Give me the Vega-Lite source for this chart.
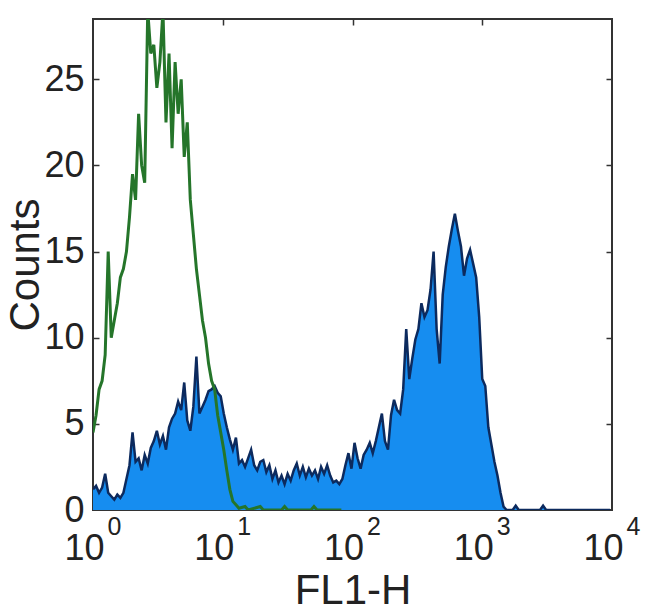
{
  "$schema": "https://vega.github.io/schema/vega-lite/v6.json",
  "width": 519,
  "height": 491,
  "autosize": {"type": "none"},
  "padding": {"left": 93, "top": 19, "right": 38, "bottom": 106},
  "background": "white",
  "view": {"stroke": "#333333", "strokeWidth": 2},
  "config": {"font": "Liberation Sans", "axis": {"grid": false, "domain": false, "labelColor": "#222222", "titleColor": "#222222", "labelFont": "Liberation Sans", "titleFont": "Liberation Sans", "titleFontWeight": "normal", "tickColor": "#333333"}},
  "datasets": {
    "blue": [
      {"channel": 0, "count": 1.2}, {"channel": 6, "count": 1.4}, {"channel": 12, "count": 1.0}, {"channel": 18, "count": 1.3},
      {"channel": 24, "count": 2.1}, {"channel": 30, "count": 1.0}, {"channel": 36, "count": 0.8}, {"channel": 42, "count": 0.6},
      {"channel": 48, "count": 0.9}, {"channel": 54, "count": 0.7}, {"channel": 60, "count": 1.0}, {"channel": 66, "count": 1.8},
      {"channel": 72, "count": 2.6}, {"channel": 78, "count": 4.5}, {"channel": 84, "count": 2.8}, {"channel": 90, "count": 3.0},
      {"channel": 96, "count": 2.3}, {"channel": 102, "count": 3.2}, {"channel": 108, "count": 2.7}, {"channel": 114, "count": 3.6},
      {"channel": 120, "count": 4.0}, {"channel": 126, "count": 4.6}, {"channel": 132, "count": 3.8}, {"channel": 138, "count": 4.3},
      {"channel": 144, "count": 3.5}, {"channel": 150, "count": 4.8}, {"channel": 156, "count": 5.3}, {"channel": 162, "count": 5.6},
      {"channel": 168, "count": 6.3}, {"channel": 174, "count": 5.8}, {"channel": 180, "count": 7.4}, {"channel": 186, "count": 5.2},
      {"channel": 192, "count": 4.6}, {"channel": 198, "count": 6.0}, {"channel": 204, "count": 8.9}, {"channel": 210, "count": 5.6},
      {"channel": 216, "count": 6.0}, {"channel": 222, "count": 6.4}, {"channel": 228, "count": 6.9}, {"channel": 234, "count": 7.0},
      {"channel": 240, "count": 7.2}, {"channel": 246, "count": 6.8}, {"channel": 252, "count": 6.6}, {"channel": 258, "count": 5.6},
      {"channel": 264, "count": 4.8}, {"channel": 270, "count": 4.1}, {"channel": 276, "count": 3.5}, {"channel": 282, "count": 4.2},
      {"channel": 288, "count": 2.7}, {"channel": 294, "count": 2.9}, {"channel": 300, "count": 2.5}, {"channel": 306, "count": 3.0},
      {"channel": 312, "count": 3.5}, {"channel": 318, "count": 2.6}, {"channel": 324, "count": 2.3}, {"channel": 330, "count": 2.8},
      {"channel": 336, "count": 2.9}, {"channel": 342, "count": 2.2}, {"channel": 348, "count": 2.6}, {"channel": 354, "count": 1.8},
      {"channel": 360, "count": 2.3}, {"channel": 366, "count": 1.6}, {"channel": 372, "count": 2.0}, {"channel": 378, "count": 1.5},
      {"channel": 384, "count": 2.1}, {"channel": 390, "count": 1.7}, {"channel": 396, "count": 2.3}, {"channel": 402, "count": 2.7},
      {"channel": 408, "count": 2.0}, {"channel": 414, "count": 2.5}, {"channel": 420, "count": 1.9}, {"channel": 426, "count": 2.4},
      {"channel": 432, "count": 2.0}, {"channel": 438, "count": 2.3}, {"channel": 444, "count": 1.8}, {"channel": 450, "count": 2.5},
      {"channel": 456, "count": 2.1}, {"channel": 462, "count": 2.6}, {"channel": 468, "count": 2.0}, {"channel": 474, "count": 1.6},
      {"channel": 480, "count": 1.7}, {"channel": 486, "count": 1.5}, {"channel": 492, "count": 1.8}, {"channel": 498, "count": 2.6},
      {"channel": 504, "count": 3.3}, {"channel": 510, "count": 2.4}, {"channel": 516, "count": 3.9}, {"channel": 522, "count": 3.0},
      {"channel": 528, "count": 2.4}, {"channel": 534, "count": 3.2}, {"channel": 540, "count": 3.5}, {"channel": 546, "count": 3.9},
      {"channel": 552, "count": 3.3}, {"channel": 558, "count": 4.0}, {"channel": 564, "count": 4.8}, {"channel": 570, "count": 5.6},
      {"channel": 576, "count": 4.0}, {"channel": 582, "count": 3.5}, {"channel": 588, "count": 5.5}, {"channel": 594, "count": 6.4},
      {"channel": 600, "count": 5.8}, {"channel": 606, "count": 5.6}, {"channel": 612, "count": 7.0}, {"channel": 618, "count": 10.5},
      {"channel": 624, "count": 7.6}, {"channel": 630, "count": 8.8}, {"channel": 636, "count": 9.9}, {"channel": 642, "count": 10.5},
      {"channel": 648, "count": 12.0}, {"channel": 654, "count": 11.2}, {"channel": 660, "count": 11.6}, {"channel": 666, "count": 12.8},
      {"channel": 672, "count": 15.0}, {"channel": 678, "count": 10.5}, {"channel": 684, "count": 8.5}, {"channel": 690, "count": 12.5},
      {"channel": 696, "count": 14.1}, {"channel": 702, "count": 15.3}, {"channel": 708, "count": 16.3}, {"channel": 714, "count": 17.2},
      {"channel": 720, "count": 16.2}, {"channel": 726, "count": 15.3}, {"channel": 732, "count": 13.6}, {"channel": 738, "count": 14.6},
      {"channel": 744, "count": 15.1}, {"channel": 750, "count": 14.3}, {"channel": 756, "count": 13.5}, {"channel": 762, "count": 11.2},
      {"channel": 768, "count": 7.6}, {"channel": 774, "count": 7.2}, {"channel": 780, "count": 4.8}, {"channel": 786, "count": 3.8},
      {"channel": 792, "count": 2.8}, {"channel": 798, "count": 2.0}, {"channel": 804, "count": 1.0}, {"channel": 810, "count": 0.2},
      {"channel": 816, "count": 0}, {"channel": 828, "count": 0}, {"channel": 834, "count": 0.25}, {"channel": 840, "count": 0},
      {"channel": 882, "count": 0}, {"channel": 888, "count": 0.25}, {"channel": 894, "count": 0}, {"channel": 1020, "count": 0}
    ],
    "green": [
      {"channel": 0, "count": 4.5}, {"channel": 6, "count": 5.5}, {"channel": 12, "count": 7.0}, {"channel": 18, "count": 7.5},
      {"channel": 24, "count": 9.0}, {"channel": 30, "count": 15.0}, {"channel": 36, "count": 10.0}, {"channel": 42, "count": 11.0},
      {"channel": 48, "count": 12.0}, {"channel": 54, "count": 13.5}, {"channel": 60, "count": 14.0}, {"channel": 66, "count": 15.0},
      {"channel": 72, "count": 17.0}, {"channel": 78, "count": 19.5}, {"channel": 84, "count": 18.0}, {"channel": 90, "count": 23.0},
      {"channel": 96, "count": 20.0}, {"channel": 102, "count": 19.0}, {"channel": 108, "count": 29.0}, {"channel": 114, "count": 26.5},
      {"channel": 120, "count": 27.0}, {"channel": 126, "count": 24.5}, {"channel": 132, "count": 26.0}, {"channel": 138, "count": 29.0},
      {"channel": 144, "count": 22.5}, {"channel": 150, "count": 26.5}, {"channel": 156, "count": 21.0}, {"channel": 162, "count": 26.0},
      {"channel": 168, "count": 23.0}, {"channel": 174, "count": 25.0}, {"channel": 180, "count": 20.5}, {"channel": 186, "count": 22.5},
      {"channel": 192, "count": 18.0}, {"channel": 198, "count": 16.0}, {"channel": 204, "count": 14.0}, {"channel": 210, "count": 12.5},
      {"channel": 216, "count": 11.0}, {"channel": 222, "count": 10.0}, {"channel": 228, "count": 8.5}, {"channel": 234, "count": 7.5},
      {"channel": 240, "count": 7.0}, {"channel": 246, "count": 5.5}, {"channel": 252, "count": 4.5}, {"channel": 258, "count": 3.5},
      {"channel": 264, "count": 2.3}, {"channel": 270, "count": 1.2}, {"channel": 276, "count": 0.5}, {"channel": 282, "count": 0.3},
      {"channel": 288, "count": 0.1}, {"channel": 300, "count": 0.2}, {"channel": 306, "count": 0}, {"channel": 330, "count": 0.2},
      {"channel": 336, "count": 0}, {"channel": 372, "count": 0}, {"channel": 378, "count": 0.2}, {"channel": 384, "count": 0},
      {"channel": 430, "count": 0}, {"channel": 436, "count": 0.2}, {"channel": 442, "count": 0}, {"channel": 490, "count": 0}
    ]
  },
  "resolve": {"axis": {"x": "independent", "y": "independent"}},
  "layer": [
    {
      "data": {"name": "blue"},
      "mark": {"type": "area", "color": "#168df0", "clip": true},
      "encoding": {
        "x": {"field": "channel", "type": "quantitative", "scale": {"domain": [0, 1024], "nice": false, "zero": false},
          "axis": {"orient": "bottom", "values": [0, 256, 512, 768, 1024], "labelExpr": "'10'", "ticks": false, "labelFontSize": 36, "labelPadding": 21, "labelOffset": -9, "labelFlush": false, "labelOverlap": false,
            "title": "FL1-H", "titleFontSize": 42, "titlePadding": 4}},
        "y": {"field": "count", "type": "quantitative", "scale": {"domain": [0, 28.5], "nice": false, "zero": true},
          "axis": {"orient": "left", "values": [0, 5, 10, 15, 20, 25], "ticks": false, "labelFontSize": 36, "labelPadding": 9, "labelFlush": false, "labelOverlap": false,
            "title": "Counts", "titleFontSize": 42, "titlePadding": -4}}
      }
    },
    {
      "data": {"name": "blue"},
      "mark": {"type": "line", "color": "#0c2a5e", "strokeWidth": 2.5, "clip": true},
      "encoding": {
        "x": {"field": "channel", "type": "quantitative",
          "axis": {"orient": "bottom", "values": [0, 256, 512, 768, 1024], "labelExpr": "'' + round(datum.value / 256)", "ticks": false, "labelFontSize": 25, "labelPadding": 4, "labelOffset": 21, "labelFlush": false, "labelOverlap": false, "title": null}},
        "y": {"field": "count", "type": "quantitative",
          "axis": {"orient": "right", "values": [5, 10, 15, 20, 25], "labels": false, "ticks": true, "tickSize": -6, "tickWidth": 1.5, "title": null}}
      }
    },
    {
      "data": {"name": "green"},
      "mark": {"type": "line", "color": "#25752a", "strokeWidth": 3, "clip": true},
      "encoding": {
        "x": {"field": "channel", "type": "quantitative",
          "axis": {"orient": "top", "values": [256, 512, 768], "labels": false, "ticks": true, "tickSize": -6, "tickWidth": 1.5, "title": null}},
        "y": {"field": "count", "type": "quantitative",
          "axis": {"orient": "left", "values": [5, 10, 15, 20, 25], "labels": false, "ticks": true, "tickSize": -6, "tickWidth": 1.5, "title": null}}
      }
    }
  ]
}
